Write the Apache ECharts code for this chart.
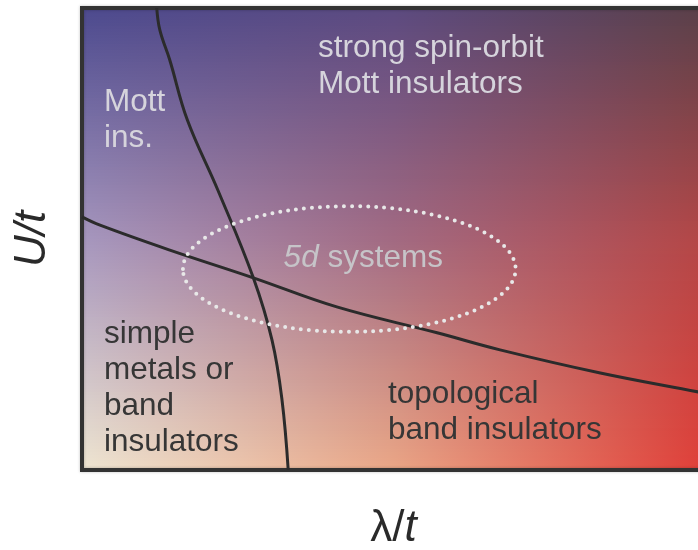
<!DOCTYPE html>
<html>
<head>
<meta charset="utf-8">
<script src="https://cdn.jsdelivr.net/npm/echarts@6/dist/echarts.min.js"></script>
<style>
  html, body { margin: 0; padding: 0; background: #ffffff; }
  #chart { width: 698px; height: 550px; }
</style>
</head>
<body>
<div id="chart"></div>
<script>
// Phase boundaries in the (λ/t, U/t) plane, axis range 0..10 on both
const mottBoundaryLambda = [1.20, 1.25, 1.41, 1.69, 2.18, 2.75, 3.05, 3.21, 3.31];
const mottBoundaryU      = [10.0, 9.52, 8.87, 7.58, 6.06, 4.16, 2.81, 1.52, 0.0];

const topoBoundaryLambda = [0.0, 0.29, 1.41, 2.75, 4.09, 5.70, 6.71, 8.32, 9.89, 10.0];
const topoBoundaryU      = [5.48, 5.30, 4.76, 4.16, 3.53, 2.97, 2.60, 2.10, 1.69, 1.66];

// Region of 5d systems: centre (λ, U) and half-widths (λ, U)
const region5dCentre = [4.29, 4.35];
const region5dRadius = [2.67, 1.36];

const axisRange = [0, 10];

const FONT = '"Liberation Sans", Arial, sans-serif';
const LABEL_SIZE = 31.5;

const GRID = { left: 82, top: 8, width: 623, height: 462 };

function pairs(xs, ys) { return xs.map((x, i) => [x, ys[i]]); }

// Background colour field: three colour rows (top, middle, bottom), each with left/mid/right stops
const rowTop = [[76, 74, 142], [92, 74, 128], [90, 64, 72]];
const rowMid = [[166, 150, 190], [162, 106, 130], [180, 70, 70]];
const rowBot = [[238, 230, 210], [234, 166, 134], [224, 62, 56]];

function mix(a, b, t) { return a.map((v, i) => Math.round(v + (b[i] - v) * t)); }
function rowAt(t) {
  if (t <= 0.5) { const s = t / 0.5; return [0, 1, 2].map(k => mix(rowTop[k], rowMid[k], s)); }
  const s = (t - 0.5) / 0.5; return [0, 1, 2].map(k => mix(rowMid[k], rowBot[k], s));
}
function rgb(c) { return 'rgb(' + c.join(',') + ')'; }

const background = [];
const STRIP = 3;
for (let y = 0; y < GRID.height; y += STRIP) {
  const row = rowAt((y + STRIP / 2) / GRID.height);
  background.push({
    type: 'rect', z: -10, silent: true,
    shape: { x: GRID.left, y: GRID.top + y, width: GRID.width, height: STRIP + 1 },
    style: {
      fill: new echarts.graphic.LinearGradient(0, 0, 1, 0, [
        { offset: 0, color: rgb(row[0]) },
        { offset: 0.5, color: rgb(row[1]) },
        { offset: 1, color: rgb(row[2]) }
      ])
    }
  });
}

const lightText = '#d6d4dc';
const darkText = '#363636';

function label(x, y, text, color) {
  return {
    type: 'text', z: 20, silent: true, x: x, y: y,
    style: { text: text, fill: color, font: LABEL_SIZE + 'px ' + FONT, lineHeight: 36, textVerticalAlign: 'top' }
  };
}

const chart = echarts.init(document.getElementById('chart'));

const option = {
  animation: false,
  grid: Object.assign({
    show: true, borderColor: '#333333', borderWidth: 4, backgroundColor: 'transparent',
    shadowColor: 'rgba(0,0,0,0.25)', shadowBlur: 3,
    outerBoundsMode: 'none', containLabel: false
  }, GRID),
  xAxis: {
    type: 'value', min: axisRange[0], max: axisRange[1],
    axisLine: { show: false }, axisTick: { show: false }, axisLabel: { show: false }, splitLine: { show: false },
    name: '{a|λ/}{i|t}', nameLocation: 'middle', nameGap: 37,
    nameTextStyle: {
      rich: {
        a: { fontFamily: FONT, fontSize: 44, color: '#2a2a2a' },
        i: { fontFamily: FONT, fontSize: 44, fontStyle: 'italic', color: '#2a2a2a' }
      }
    }
  },
  yAxis: {
    type: 'value', min: axisRange[0], max: axisRange[1],
    axisLine: { show: false }, axisTick: { show: false }, axisLabel: { show: false }, splitLine: { show: false },
    name: 'U/t', nameLocation: 'middle', nameGap: 27, nameRotate: 90,
    nameTextStyle: { fontFamily: FONT, fontSize: 44, fontStyle: 'italic', color: '#2a2a2a' }
  },
  series: [
    {
      type: 'line', data: pairs(mottBoundaryLambda, mottBoundaryU), smooth: 0.4,
      showSymbol: false, lineStyle: { color: '#2b2b2b', width: 3 }, z: 5
    },
    {
      type: 'line', data: pairs(topoBoundaryLambda, topoBoundaryU), smooth: 0.4,
      showSymbol: false, lineStyle: { color: '#2b2b2b', width: 3 }, z: 5
    }
  ],
  graphic: background
};
chart.setOption(option);

// 5d region ellipse and region labels, placed through the axis scales
const c = chart.convertToPixel({ gridIndex: 0 }, region5dCentre);
const edge = chart.convertToPixel({ gridIndex: 0 }, [region5dCentre[0] + region5dRadius[0], region5dCentre[1] + region5dRadius[1]]);

const overlay = [
  {
    type: 'ellipse', z: 15, silent: true,
    shape: { cx: c[0], cy: c[1], rx: edge[0] - c[0], ry: c[1] - edge[1] },
    style: { fill: 'none', stroke: '#e8e8e8', lineWidth: 4, lineDash: [0, 8], lineCap: 'round' }
  },
  {
    type: 'text', z: 20, silent: true, x: c[0] + 14, y: c[1] - 11,
    style: {
      text: '{i|5}{i|d}{n| systems}', align: 'center', verticalAlign: 'middle',
      rich: {
        i: { font: 'italic ' + LABEL_SIZE + 'px ' + FONT, fill: '#c6c4c8' },
        n: { font: LABEL_SIZE + 'px ' + FONT, fill: '#c6c4c8' }
      }
    }
  },
  label(318, 30, 'strong spin-orbit\nMott insulators', lightText),
  label(104, 84, 'Mott\nins.', lightText),
  label(104, 316, 'simple\nmetals or\nband\ninsulators', darkText),
  label(388, 376, 'topological\nband insulators', darkText)
];
chart.setOption({ graphic: background.concat(overlay) });
</script>
</body>
</html>
